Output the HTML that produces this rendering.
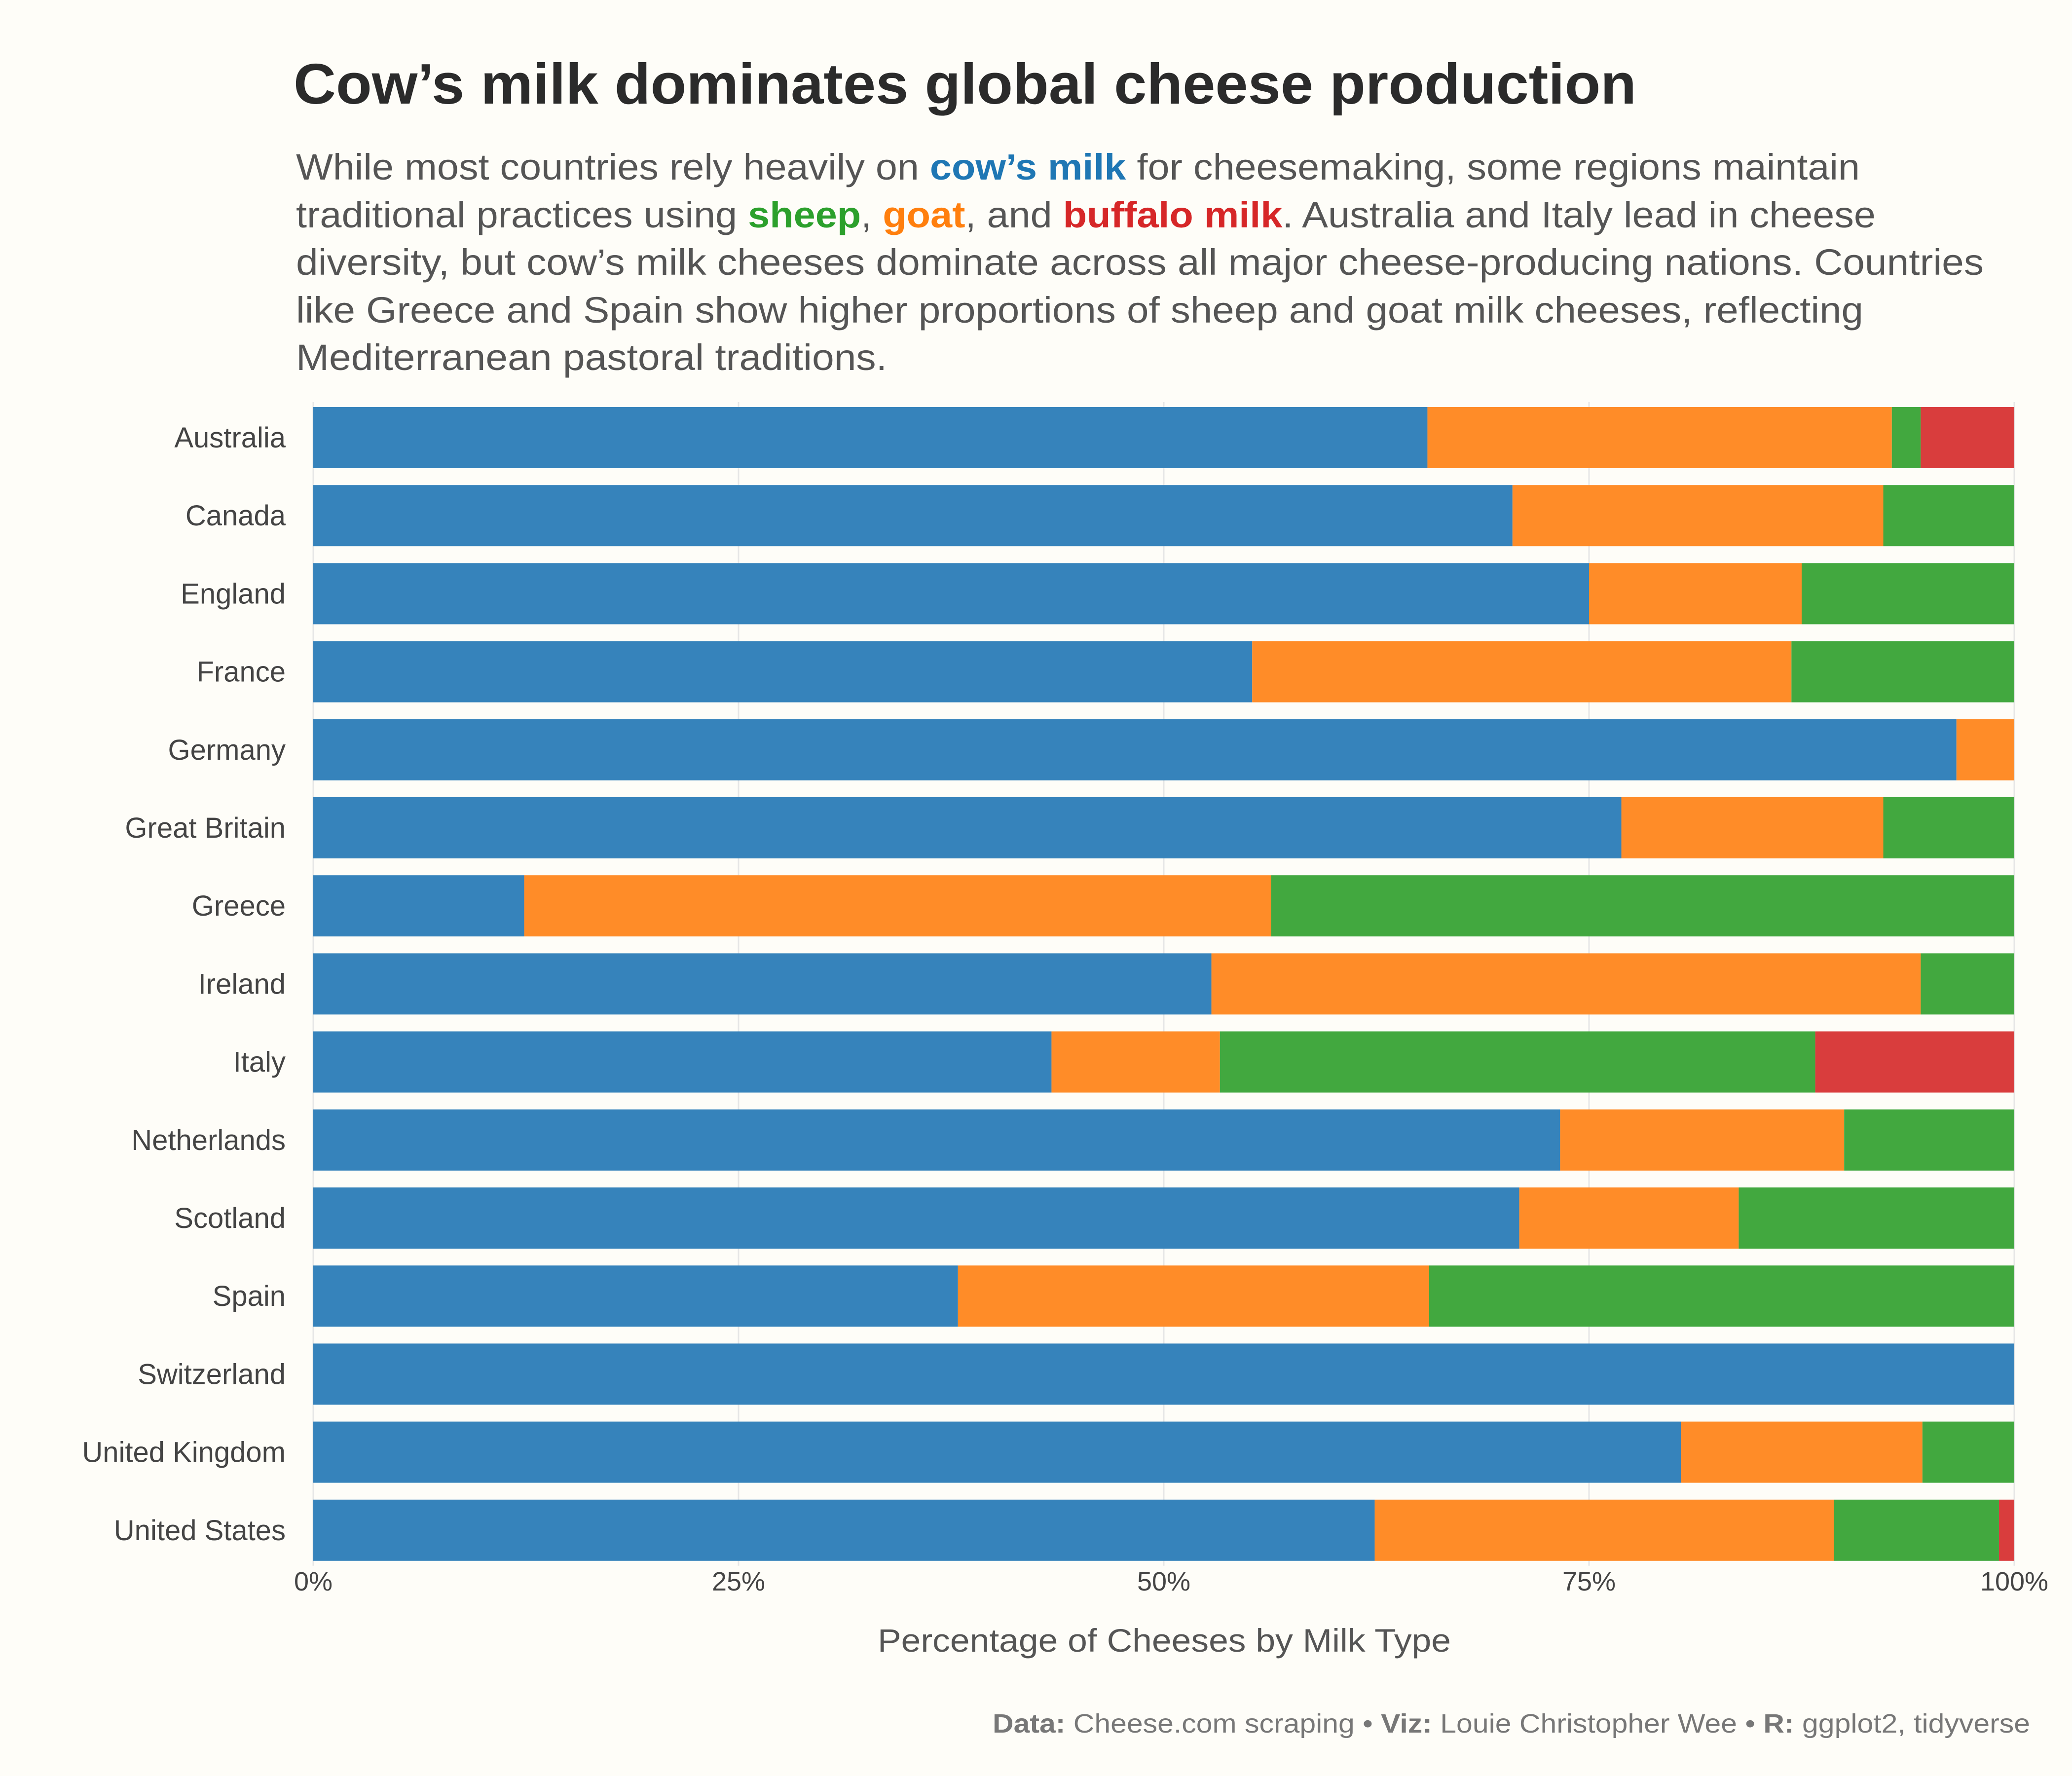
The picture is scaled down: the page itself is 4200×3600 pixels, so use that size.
<!DOCTYPE html>
<html><head><meta charset="utf-8"><style>
html,body{margin:0;padding:0;background:#FEFDF8;}
svg{display:block;font-family:"Liberation Sans",sans-serif;}
</style></head><body>
<svg width="4200" height="3600" viewBox="0 0 4200 3600">
<rect width="4200" height="3600" fill="#FEFDF8"/>
<text x="595" y="210" font-size="116" font-weight="bold" fill="#2b2b2b" textLength="2722" lengthAdjust="spacingAndGlyphs">Cow’s milk dominates global cheese production</text>
<g font-size="74" fill="#555">
<text x="600" y="364" textLength="3170" lengthAdjust="spacingAndGlyphs">While most countries rely heavily on <tspan fill="#1F77B4" font-weight="bold">cow’s milk</tspan> for cheesemaking, some regions maintain</text>
<text x="600" y="461" textLength="3202" lengthAdjust="spacingAndGlyphs">traditional practices using <tspan fill="#2CA02C" font-weight="bold">sheep</tspan>, <tspan fill="#FF7F0E" font-weight="bold">goat</tspan>, and <tspan fill="#D62728" font-weight="bold">buffalo milk</tspan>. Australia and Italy lead in cheese</text>
<text x="600" y="557" textLength="3421" lengthAdjust="spacingAndGlyphs">diversity, but cow’s milk cheeses dominate across all major cheese-producing nations. Countries</text>
<text x="600" y="654" textLength="3177" lengthAdjust="spacingAndGlyphs">like Greece and Spain show higher proportions of sheep and goat milk cheeses, reflecting</text>
<text x="600" y="750" textLength="1198" lengthAdjust="spacingAndGlyphs">Mediterranean pastoral traditions.</text>
</g>
<g id="grid"></g>
<g id="bars"></g>
<g id="ylab" font-size="58" fill="#444" text-anchor="end"></g>
<g id="xlab" font-size="54" fill="#444" text-anchor="middle"></g>
<text x="1779" y="3348" font-size="66" fill="#555" textLength="1162" lengthAdjust="spacingAndGlyphs">Percentage of Cheeses by Milk Type</text>
<text x="2012" y="3512" font-size="54" fill="#777" textLength="2103" lengthAdjust="spacingAndGlyphs"><tspan font-weight="bold">Data:</tspan> Cheese.com scraping • <tspan font-weight="bold">Viz:</tspan> Louie Christopher Wee • <tspan font-weight="bold">R:</tspan> ggplot2, tidyverse</text>
</svg>
<script>
const countries=["Australia","Canada","England","France","Germany","Great Britain","Greece","Ireland","Italy","Netherlands","Scotland","Spain","Switzerland","United Kingdom","United States"];
const cow=[65.5,70.5,75,55.2,96.6,76.9,12.4,52.8,43.4,73.3,70.9,37.9,100,80.4,62.4];
const goat=[27.3,21.8,12.5,31.7,3.4,15.4,43.9,41.7,9.9,16.7,12.9,27.7,0,14.2,27.0];
const sheep=[1.7,7.7,12.5,13.1,0,7.7,43.7,5.5,35.0,10.0,16.2,34.4,0,5.4,9.7];
const buffalo=[5.5,0,0,0,0,0,0,0,11.7,0,0,0,0,0,0.9];
const xTicks=[0,25,50,75,100];
const xTickLabels=["0%","25%","50%","75%","100%"];
const NS="http://www.w3.org/2000/svg";
const x0=635,x1=4083,top0=825,step=158.2,bh=124;
const xs=v=>x0+(x1-x0)*v/100;
const yb=i=>top0+i*step;
const grid=document.getElementById('grid'),bars=document.getElementById('bars'),ylab=document.getElementById('ylab'),xlab=document.getElementById('xlab');
xTicks.forEach((t,i)=>{
  const l=document.createElementNS(NS,'line');
  l.setAttribute('x1',xs(t));l.setAttribute('x2',xs(t));l.setAttribute('y1',top0-10);l.setAttribute('y2',yb(countries.length-1)+bh+10);
  l.setAttribute('stroke','#e6e6e6');l.setAttribute('stroke-width','3');
  
  
  grid.appendChild(l);
  const tx=document.createElementNS(NS,'text');
  tx.setAttribute('x',xs(t));tx.setAttribute('y',3224);tx.textContent=xTickLabels[i];
  
  
  xlab.appendChild(tx);
});
const series=[[cow,"#3683BB","cow"],[goat,"#FF8C28","goat"],[sheep,"#42A83F","sheep"],[buffalo,"#D93D3D","buffalo"]];
countries.forEach((c,i)=>{
  let acc=0;
  series.forEach(([arr,col,nm])=>{
    const v=arr[i];
    if(v>0){
      const r=document.createElementNS(NS,'rect');
      r.setAttribute('x',xs(acc));r.setAttribute('width',xs(acc+v)-xs(acc));
      r.setAttribute('y',yb(i));r.setAttribute('height',bh);r.setAttribute('fill',col);
      
      
      bars.appendChild(r);
    }
    acc+=v;
  });
  const t=document.createElementNS(NS,'text');
  t.setAttribute('x',579);t.setAttribute('y',yb(i)+bh/2+20);t.textContent=c;
  
  
  ylab.appendChild(t);
});
</script>
</body></html>
